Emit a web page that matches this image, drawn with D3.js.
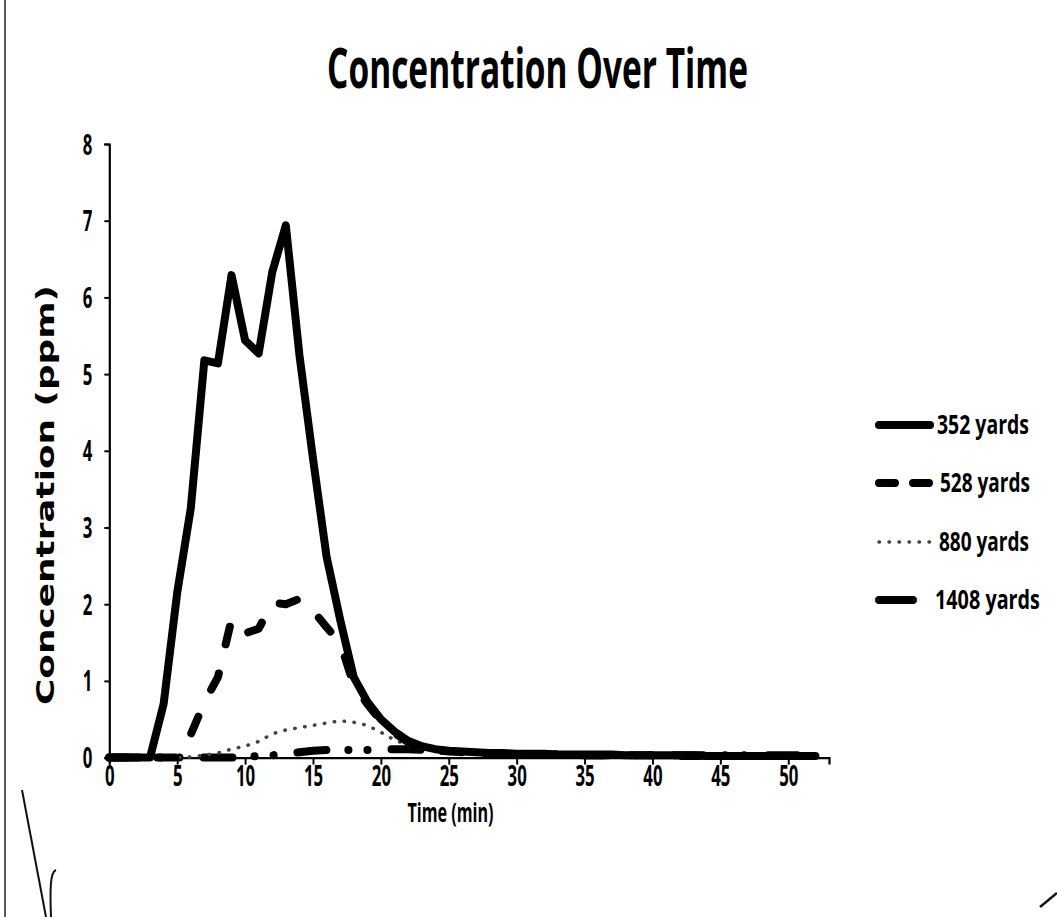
<!DOCTYPE html>
<html><head><meta charset="utf-8">
<script src="https://cdn.jsdelivr.net/npm/d3@7"></script>
<style>html,body{margin:0;padding:0;background:#fff;}svg{display:block;}</style>
</head><body><div id="chart"></div>
<script>
const times = d3.range(0, 53);
const s352 = [0,0,0,0,0.7,2.15,3.25,5.18,5.14,6.29,5.44,5.27,6.33,6.94,5.25,3.9,2.62,1.8,1.05,0.73,0.5,0.34,0.22,0.15,0.11,0.09,0.08,0.07,0.06,0.06,0.05,0.05,0.05,0.04,0.04,0.04,0.04,0.04,0.03,0.03,0.03,0.03,0.03,0.03,0.02,0.02,0.02,0.02,0.02,0.02,0.02,0.02,0.02];
const s528 = [0,0,0,0,0,0,0.3,0.72,1.05,1.8,1.62,1.68,2.02,2.0,2.07,1.92,1.7,1.5,0.95,0.7,0.48,0.32,0.2,0.14,0.1,0.08,0.07,0.06,0.05,0.05,0.05,0.04,0.04,0.04,0.04,0.03,0.03,0.03,0.03,0.03,0.03,0.02,0.02,0.02,0.02,0.02,0.02,0.02,0.02,0.02,0.02,0.02,0.02];
const s880 = [0,0,0,0,0,0,0.01,0.03,0.06,0.11,0.15,0.21,0.31,0.36,0.39,0.42,0.45,0.48,0.46,0.42,0.33,0.23,0.16,0.12,0.09,0.07,0.06,0.05,0.05,0.04,0.04,0.04,0.03,0.03,0.03,0.03,0.03,0.02,0.02,0.02,0.02,0.02,0.02,0.02,0.02,0.01,0.01,0.01,0.01,0.01,0.01,0.01,0.01];
const s1408 = [0,0,0,0,0,0,0,0,0,0,0.01,0.02,0.03,0.05,0.07,0.09,0.1,0.1,0.1,0.1,0.1,0.11,0.11,0.1,0.09,0.08,0.07,0.06,0.05,0.05,0.04,0.04,0.04,0.04,0.04,0.03,0.03,0.03,0.03,0.03,0.03,0.03,0.03,0.03,0.03,0.03,0.03,0.03,0.03,0.03,0.03,0.03,0.03];
const seriesNames = ["352 yards","528 yards","880 yards","1408 yards"];
const xTicks = [0,5,10,15,20,25,30,35,40,45,50];
const yTicks = [0,1,2,3,4,5,6,7,8];

const W = 1057, H = 917;
const svg = d3.select("#chart").append("svg").attr("width", W).attr("height", H);
const FONT = "'Open Sans','Liberation Sans',sans-serif";
const SX = 0.6; // horizontal condensing for tick labels

// page decorations (scan artefacts)
svg.append("line").attr("x1",5).attr("y1",0).attr("x2",5).attr("y2",H).attr("stroke","#222").attr("stroke-width",1.5);
svg.append("path").attr("d","M22,790 L46,917").attr("fill","none").attr("stroke","#111").attr("stroke-width",2);
svg.append("path").attr("d","M56,870 C50,872 50,890 51,917").attr("fill","none").attr("stroke","#111").attr("stroke-width",2);
svg.append("path").attr("d","M1040,907 L1057,893").attr("fill","none").attr("stroke","#111").attr("stroke-width",2.5);

const x = d3.scaleLinear().domain([0,53]).range([109.3, 829]);
const y = d3.scaleLinear().domain([0,8]).range([757.6, 144]);

// text condensed horizontally to a target width via a scale transform
function condensedText(tx, ty, str, size, len, anchor){
  const t = svg.append("text").attr("x",0).attr("y",0).attr("text-anchor",anchor||"start")
    .attr("font-family",FONT).attr("font-weight","bold").attr("font-size",size).text(str);
  const w = t.node().getComputedTextLength();
  t.attr("transform",`translate(${tx},${ty}) scale(${len/w},1)`);
  return t;
}

// title
condensedText(537.5, 88, "Concentration Over Time", 56, 421, "middle");

// axes
const xAxis = svg.append("g").attr("transform",`translate(0,${y(0)})`)
  .call(d3.axisBottom(x).tickValues(xTicks).tickSize(7).tickPadding(8).tickFormat(d3.format("d")));
const yAxis = svg.append("g").attr("transform",`translate(${x(0)},0)`)
  .call(d3.axisLeft(y).tickValues(yTicks).tickSize(5).tickPadding(12).tickFormat(d3.format("d")));
[xAxis,yAxis].forEach(g=>{
  g.select(".domain").attr("stroke","#000").attr("stroke-width",2.2);
  g.selectAll(".tick line").attr("stroke","#000").attr("stroke-width",2);
  g.selectAll(".tick text").attr("font-family",FONT).attr("font-weight","bold").attr("font-size",28).attr("fill","#000")
    .attr("transform",`scale(${SX},1)`);
});
xAxis.selectAll(".tick text").attr("y",8).attr("dy","0.72em").attr("x",0);
yAxis.selectAll(".tick text").attr("x",-17/SX).attr("dy","0.36em");

// axis titles
condensedText(450.5, 822, "Time (min)", 26, 86, "middle");
svg.append("text").attr("transform","translate(54,495) rotate(-90)").attr("text-anchor","middle")
  .attr("font-family","'DejaVu Sans',Verdana,sans-serif").attr("font-weight","bold").attr("font-size",24)
  .attr("textLength",420).attr("lengthAdjust","spacingAndGlyphs").text("Concentration (ppm)");

// lines
const styles = [
  {data:s352, width:8, dash:null, color:"#000"},
  {data:s528, width:8, dash:"18,30", color:"#000"},
  {data:s880, width:3.5, dash:"0.5,9.5", color:"#444"},
  {data:s1408, width:8, dash:"29,22,0.1,19,0.1,24", color:"#000"}
];
const line = d3.line().x((d,i)=>x(times[i])).y(d=>y(d));
[3,2,1,0].forEach(k=>{
  const s = styles[k];
  svg.append("path").datum(s.data).attr("d",line).attr("fill","none")
    .attr("stroke",s.color).attr("stroke-width",s.width)
    .attr("stroke-linecap","round").attr("stroke-linejoin","round")
    .attr("stroke-dasharray",s.dash);
});

// legend
const legY = [425,483,542,600];
const legDash = [null,"16,18","0.5,9.5","34,17,0.1,200"];
const legX = [937,940,939,935];
const legLen = [92,90,90,105];
seriesNames.forEach((name,i)=>{
  const s = styles[i];
  svg.append("line").attr("x1",879).attr("x2",930).attr("y1",legY[i]).attr("y2",legY[i])
    .attr("stroke",s.color).attr("stroke-width",s.width)
    .attr("stroke-linecap","round").attr("stroke-dasharray",legDash[i]);
  condensedText(legX[i], legY[i]+9, name, 26, legLen[i], "start");
});
</script></body></html>
